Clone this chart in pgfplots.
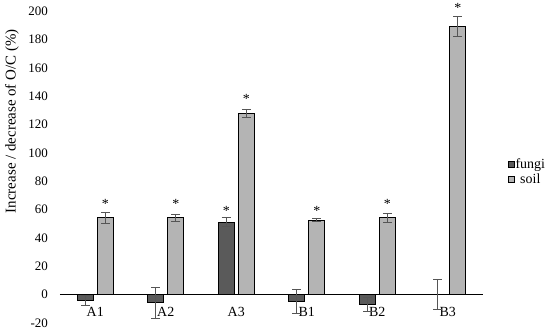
\documentclass[border=0pt]{standalone}
\usepackage{fontspec}
\setmainfont{Liberation Serif}
\usepackage{pgfplots}
\usepackage{pgfplotstable}
\pgfplotsset{compat=1.18}
\definecolor{fungi}{RGB}{90,90,90}
\definecolor{soil}{RGB}{180,180,180}
\definecolor{errc}{RGB}{85,85,85}

% change of O/C (%), mean and error; pos = bar centre
\pgfplotstableread{
x pos y err
0 -0.142 -4 3.5
1 0.858 -6 11
2 1.858 51 3
3 2.858 -5 8.5
4 3.858 -7 5
5 4.858 0 10.3
}\fungidata
\pgfplotstableread{
x pos y err
0 0.142 54 4
1 1.142 54 2.5
2 2.142 127.5 2.8
3 3.142 52.5 1
4 4.142 54 3
5 5.142 189 7
}\soildata
% significance marks (visual centre of the *)
\pgfplotstableread{
x y
0.142 64.6
1.142 64.6
1.858 59.7
2.142 138.7
3.142 59.7
4.142 64.6
5.142 203
}\stardata

\begin{document}
\begin{tikzpicture}
\useasboundingbox (-60bp,-6.2bp) rectangle (490bp,322.8bp);
\begin{axis}[
    scale only axis, width=423bp, height=311.6bp,
    at={(0,0)}, anchor=south west,
    xmin=-0.5, xmax=5.5, ymin=-20, ymax=200,
    axis x line=middle, axis y line=left,
    axis line style={-},
    x axis line style={black, line width=1bp},
    y axis line style={draw=none},
    hide obscured x ticks=false, hide obscured y ticks=false,
    major tick length=0pt,
    xtick={0,...,5}, xticklabels={A1,A2,A3,B1,B2,B3},
    ytick={-20,0,20,...,200},
    /pgf/number format/assume math mode=true,
    yticklabel style={font=\fontsize{13}{15}\selectfont, xshift=-8.7bp},
    xticklabel style={font=\fontsize{14}{16}\selectfont, yshift=-9bp},
    ylabel={Increase / decrease of O/C (\%)},
    ylabel style={at={(rel axis cs:-0.1135,0.647)}, anchor=center,
        font=\fontsize{15}{17}\selectfont},
    legend style={at={(1.052,0.485)}, anchor=west, draw=none, fill=none,
        font=\fontsize{14}{16}\selectfont, row sep=2.5bp,
        nodes={inner sep=0.6bp}},
    clip=false,
]
\addplot[ybar, bar width=16bp, bar shift=-10bp, fill=fungi, draw=black, line width=1bp,
    legend image code/.code={\draw[fill=fungi, draw=black, line width=0.8bp]
        (0bp,-3bp) rectangle (6bp,3bp);}]
    table[x=x, y=y] {\fungidata};
\addlegendentry{fungi}
\addplot[ybar, bar width=16bp, bar shift=10bp, fill=soil, draw=black, line width=1bp,
    legend image code/.code={\draw[fill=soil, draw=black, line width=0.8bp]
        (0bp,-3bp) rectangle (6bp,3bp);}]
    table[x=x, y=y] {\soildata};
\addlegendentry{soil}
% error bars at the bar centres
\addplot[draw=none, mark=none, forget plot,
    error bars/.cd, y dir=both, y explicit,
    error bar style={draw=errc, line width=1bp},
    error mark options={draw=errc, rotate=90, line width=1bp, mark size=4.5bp}]
    table[x=pos, y=y, y error=err] {\fungidata};
\addplot[draw=none, mark=none, forget plot,
    error bars/.cd, y dir=both, y explicit,
    error bar style={draw=errc, line width=1bp},
    error mark options={draw=errc, rotate=90, line width=1bp, mark size=4.5bp}]
    table[x=pos, y=y, y error=err] {\soildata};
\addplot[draw=none, mark=none, forget plot, nodes near coords={*},
    every node near coord/.append style={anchor=base, yshift=-0.54em,
        font=\fontsize{14}{16}\selectfont}]
    table[x=x, y=y] {\stardata};
\end{axis}
\end{tikzpicture}
\end{document}
